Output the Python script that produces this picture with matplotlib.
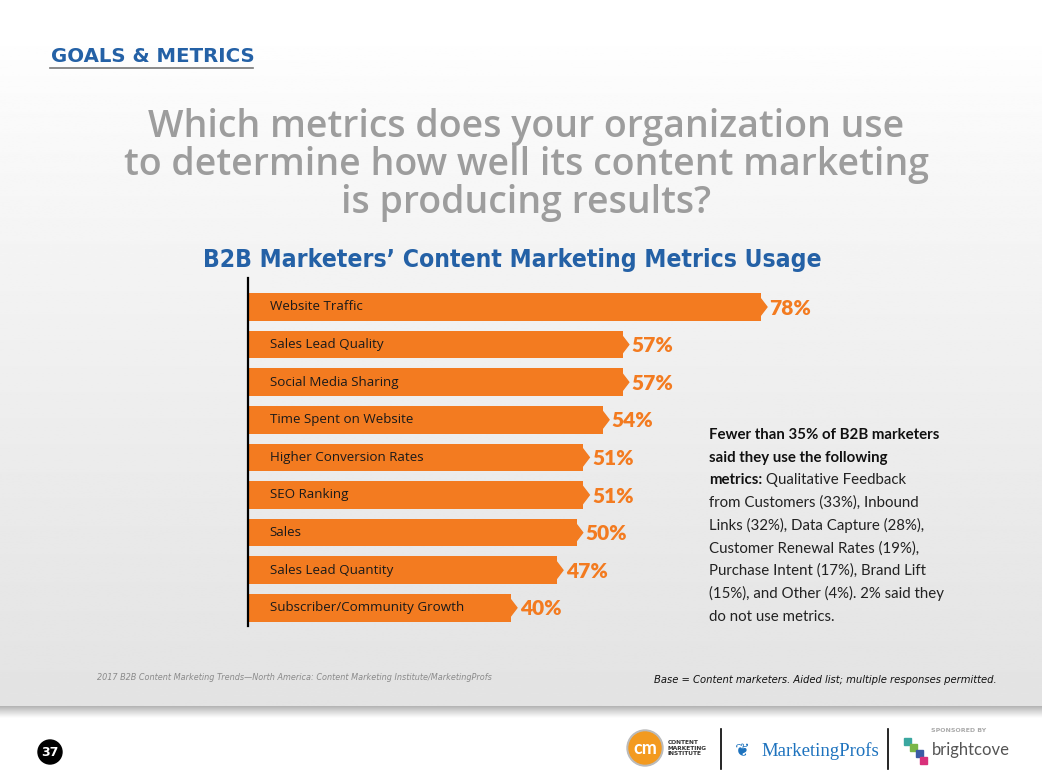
import matplotlib
matplotlib.use("Agg")
import matplotlib.pyplot as plt
from matplotlib.patches import Polygon, Circle, Rectangle
import numpy as np

# data
metrics = ["Website Traffic", "Sales Lead Quality", "Social Media Sharing",
           "Time Spent on Website", "Higher Conversion Rates", "SEO Ranking",
           "Sales", "Sales Lead Quantity", "Subscriber/Community Growth"]
pct = [78, 57, 57, 54, 51, 51, 50, 47, 40]

title_lines = ["Which metrics does your organization use",
               "to determine how well its content marketing",
               "is producing results?"]
subtitle = "B2B Marketers\u2019 Content Marketing Metrics Usage"
note_bold = ["Fewer than 35% of B2B marketers", "said they use the following", "metrics:"]
note_rest = [" Qualitative Feedback", "from Customers (33%), Inbound",
             "Links (32%), Data Capture (28%),", "Customer Renewal Rates (19%),",
             "Purchase Intent (17%), Brand Lift", "(15%), and Other (4%). 2% said they",
             "do not use metrics."]
source = "2017 B2B Content Marketing Trends\u2014North America: Content Marketing Institute/MarketingProfs"
base_note = "Base = Content marketers. Aided list; multiple responses permitted."

ORANGE = "#f37b20"
BLUE = "#2461a6"
W, H = 1042, 782

fig = plt.figure(figsize=(W / 100, H / 100), dpi=100)

# background in pixel coordinates
bg = fig.add_axes([0, 0, 1, 1])
bg.set_xlim(0, W)
bg.set_ylim(H, 0)
bg.axis("off")
rows = np.linspace(0, 1, 300)
shade = 1.0 - 0.11 * np.clip((rows - 0.05) / 0.95, 0, 1) ** 0.8
bg.imshow(np.tile(shade[:, None], (1, 2)), cmap="gray", vmin=0, vmax=1,
          extent=(0, W, 706, 0), aspect="auto", zorder=0)
band = np.linspace(0.55, 1.0, 60) ** 0.6
bg.imshow(np.tile(band[:, None], (1, 2)), cmap="gray", vmin=0, vmax=1,
          extent=(0, W, 718, 706), aspect="auto", zorder=0)

bg.text(51, 62, "GOALS & METRICS", color=BLUE, fontsize=14.2, fontweight="bold",
        family="DejaVu Sans", va="baseline")
bg.plot([50, 253], [68, 68], color="#777777", lw=1.2)

for k, line in enumerate(title_lines):
    bg.text(526, 137 + 38 * k, line, ha="center", va="baseline", fontsize=27,
            color="#9d9d9d", family="Open Sans", fontweight="semibold")

bg.text(512, 267, subtitle, ha="center", va="baseline", fontsize=17.7,
        color=BLUE, fontweight="bold", family="DejaVu Sans", fontstretch="condensed")

# side note
nfs = 10.8
for k, line in enumerate(note_bold):
    t = bg.text(709, 439 + 22.7 * k, line, fontsize=nfs, fontweight="bold",
                color="#111111", family="Lato", va="baseline")
bg.annotate(note_rest[0], xy=(1, 0), xycoords=t, va="bottom", fontsize=nfs,
            color="#222222", family="Lato")
for k, line in enumerate(note_rest[1:]):
    bg.text(709, 439 + 22.7 * (k + 3), line, fontsize=nfs, color="#222222",
            family="Lato", va="baseline")

bg.text(97, 680, source, fontsize=6.5, style="italic", color="#8a8a8a",
        family="DejaVu Sans", fontstretch="condensed", va="baseline")
bg.text(997, 683, base_note, fontsize=8, style="italic", color="#111111",
        family="DejaVu Sans", fontstretch="condensed", ha="right", va="baseline")

# footer
bg.add_patch(Circle((50, 752), 12, color="black"))
bg.text(50, 752, "37", color="white", fontsize=9, fontweight="bold",
        ha="center", va="center")
bg.add_patch(Circle((645, 748), 18, color="#bbbbbb"))
bg.add_patch(Circle((645, 748), 16, color="#f39a1f"))
bg.text(645, 749, "cm", color="white", fontsize=13, fontweight="bold",
        ha="center", va="center", family="Lato")
bg.text(668, 748, "CONTENT\nMARKETING\nINSTITUTE", fontsize=4.2, fontweight="bold",
        color="#333333", va="center", linespacing=1.1)
bg.plot([721, 721], [729, 769], color="black", lw=1.2)
bg.text(735, 751, "\u2766", fontsize=13, color="#1e73be", va="center")
bg.text(761, 751, "MarketingProfs", fontsize=13.5, color="#1e73be",
        family="Liberation Serif", va="center")
bg.plot([888, 888], [729, 769], color="black", lw=1.2)
bg.text(931, 731, "SPONSORED BY", fontsize=4.5, fontweight="bold",
        color="#aaaaaa", va="center")
for dx, dy, c in [(904, 738, "#3aa7a0"), (910, 744, "#7ab648"), (916, 750, "#3b5ba5"), (920, 757, "#d9307b")]:
    bg.add_patch(Rectangle((dx, dy), 7, 7, color=c))
bg.text(932, 750, "brightcove", fontsize=12, color="#555555",
        family="Lato", va="center")

# bar chart
px = 6.58
ax = fig.add_axes([247.5 / W, (H - 626) / H, 100 * px / W, 348 / H])
ax.set_xlim(0, 100)
ax.set_ylim(8.484, -0.771)
ax.patch.set_alpha(0)
y = np.arange(len(metrics))
ax.barh(y, pct, height=0.73, color=ORANGE, zorder=2)
for i, (name, v) in enumerate(zip(metrics, pct)):
    ax.add_patch(Polygon([(v - 0.1, i - 0.24), (v + 0.95, i), (v - 0.1, i + 0.24)],
                         closed=True, color=ORANGE, zorder=2))
    ax.text(3.4, i, name, va="center", fontsize=9.6, color="#1a1a1a",
            family="Open Sans", zorder=3)
    ax.text(v + 1.35, i + 0.03, f"{v}%", va="center", fontsize=15, fontweight="heavy",
            color=ORANGE, family="Lato", zorder=3)

for s in ["top", "right", "bottom"]:
    ax.spines[s].set_visible(False)
ax.spines["left"].set_linewidth(1.6)
ax.set_xticks([])
ax.set_yticks([])

fig.savefig("out.png", dpi=100)
